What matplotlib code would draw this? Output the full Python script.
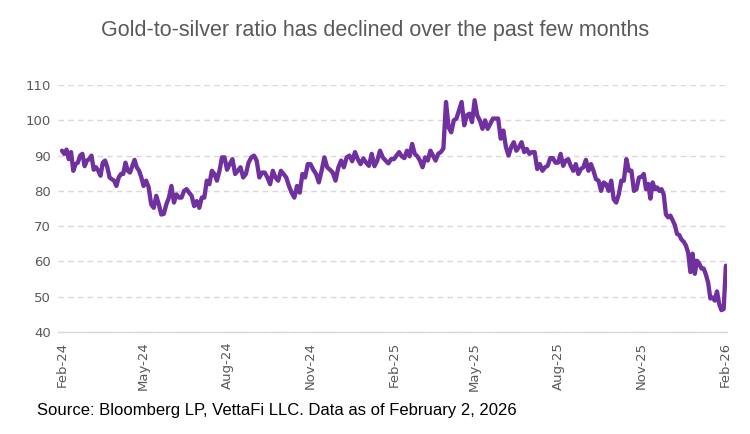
import numpy as np
import pandas as pd
import matplotlib
matplotlib.use("Agg")
import matplotlib.pyplot as plt
import matplotlib.dates as mdates

# Segment boundary dates (quarters) and values
seg_bounds = ["2024-02-01", "2024-05-01", "2024-08-01", "2024-11-01", "2025-02-01",
              "2025-05-01", "2025-08-01", "2025-11-01", "2026-02-02"]

q1 = [91.4, 90.5, 91.7, 89, 91, 85.7, 87.6, 88, 90, 90.5, 87, 88.6, 89, 90, 86, 86.7,
      85.7, 84.3, 88, 88.6, 86.7, 83.8, 83.3, 82.9, 81.4, 83.8, 84.8, 84.8, 88, 85.7,
      85.2, 87, 88.8, 86.7, 85.7, 83.8]
q2 = [81.4, 82.9, 81, 76.2, 75.2, 78.6, 76.2, 73.3, 73.5, 76.2, 78.1, 81.4, 76.7, 79,
      78.1, 78.1, 80, 80.5, 79.5, 78.6, 75.7, 77.1, 75.2, 78.1, 78.1, 82.9, 81.9, 85.7,
      84.8, 82.9, 85.7, 89.5, 89.5]
q3 = [86, 87.6, 89, 84.8, 85.7, 86.7, 83.8, 84.8, 88, 89.5, 90, 88.6, 83.8, 85.2, 85.2,
      83.8, 81.9, 85.7, 83.8, 82.9, 85.7, 84.8, 83.8, 81.4, 79.5, 78.1, 81.4, 79.5, 84.8,
      83.8, 87.6]
q4 = [87.6, 86, 84.8, 82.4, 85.7, 89.5, 86.7, 86, 85.2, 82.9, 86.6, 88.6, 86.7, 89.5,
      90, 88.4, 91, 89, 87.6, 89.2, 88, 87.1, 90.5, 87, 88.6, 91.4, 89.5, 88.6, 87.8, 89]
q5 = [89, 90, 91, 89.8, 89.3, 91.4, 89.8, 93.3, 90.5, 89.8, 88.6, 86.7, 89.5, 88.6,
      91.4, 90, 88.6, 90.5, 91, 92, 105.2, 98, 96.6, 100, 100.5, 102.9, 105.2, 98.6,
      101.4, 101.9, 99.5]
q6 = [105.7, 101.4, 100, 97.6, 100, 97.6, 99, 100.5, 100.5, 100.5, 94.8, 97.1, 92.4,
      90, 92.4, 93.8, 91.4, 92.4, 93.8, 91, 91.9, 90.5, 91, 91, 86.2, 87.6, 85.7, 86.7,
      87.1, 89.3, 89.3, 88]
q7 = [88, 90.5, 87.1, 88.6, 89, 87.1, 85.7, 87.6, 84.8, 86.2, 86.7, 88.8, 85.7, 87.6,
      85.7, 83.3, 82.9, 80, 82.4, 81.9, 80, 82.9, 77.6, 76.7, 79, 82.9, 82.9, 89, 85.7,
      85.7, 80, 80.5, 83.8]
q8 = [84, 84.8, 80.5, 82, 77.8, 82.4, 80.5, 81, 80, 80.5, 79, 73.3, 72.5, 73, 71.7,
      70.3, 67.8, 67.5, 66.2, 65.6, 64.5, 62.5, 57, 62.2, 56.5, 60.2, 59.4, 58, 58, 56.3,
      54, 49.5, 49.8, 48.9, 51.5, 47.9, 46.2, 46.5, 58.8]

tick_dates = ["2024-02-01", "2024-05-01", "2024-08-01", "2024-11-01", "2025-02-01",
              "2025-05-01", "2025-08-01", "2025-11-01", "2026-02-01"]
tick_labels = ["Feb-24", "May-24", "Aug-24", "Nov-24", "Feb-25", "May-25", "Aug-25",
               "Nov-25", "Feb-26"]
y_ticks = [40, 50, 60, 70, 80, 90, 100, 110]

segments = [q1, q2, q3, q4, q5, q6, q7, q8]
dates, vals = [], []
for i, seg in enumerate(segments):
    s = pd.Timestamp(seg_bounds[i])
    e = pd.Timestamp(seg_bounds[i + 1])
    n = len(seg)
    if i == len(segments) - 1:
        d = pd.date_range(s, e, periods=n)
    else:
        d = pd.date_range(s, e, periods=n + 1)[:-1]
    dates.extend(d)
    vals.extend(seg)

fig = plt.figure(figsize=(7.5, 4.34), dpi=100)
ax = fig.add_axes([0.0773, 0.235, 0.892, 0.569])

ax.plot(dates, vals, color="#7030A0", lw=3.1, solid_joinstyle="round", solid_capstyle="round")

ax.set_ylim(40, 110)
ax.set_yticks(y_ticks)
ax.set_xlim(pd.Timestamp("2024-01-27 14:00"), pd.Timestamp("2026-02-03 05:00"))
ax.set_xticks([pd.Timestamp(t) for t in tick_dates])
ax.set_xticklabels(tick_labels, rotation=90)

ax.grid(axis="y", color="#D9D9D9", linestyle=(0, (4, 3)), linewidth=1)
ax.set_axisbelow(True)
for sp in ["left", "right", "top"]:
    ax.spines[sp].set_visible(False)
ax.spines["bottom"].set_color("#D9D9D9")
ax.spines["bottom"].set_linewidth(1)
ax.tick_params(axis="both", length=0, colors="#595959", labelsize=9.5)
ax.tick_params(axis="y", pad=5)
ax.tick_params(axis="x", pad=7)

fig.text(0.5, 0.93, "Gold-to-silver ratio has declined over the past few months",
         ha="center", va="center", fontsize=15.5, color="#595959", family="Liberation Sans")
fig.text(0.049, 0.053, "Source: Bloomberg LP, VettaFi LLC. Data as of February 2, 2026",
         ha="left", va="center", fontsize=12.0, color="black", family="Liberation Sans")

fig.savefig("out.png", dpi=100)
